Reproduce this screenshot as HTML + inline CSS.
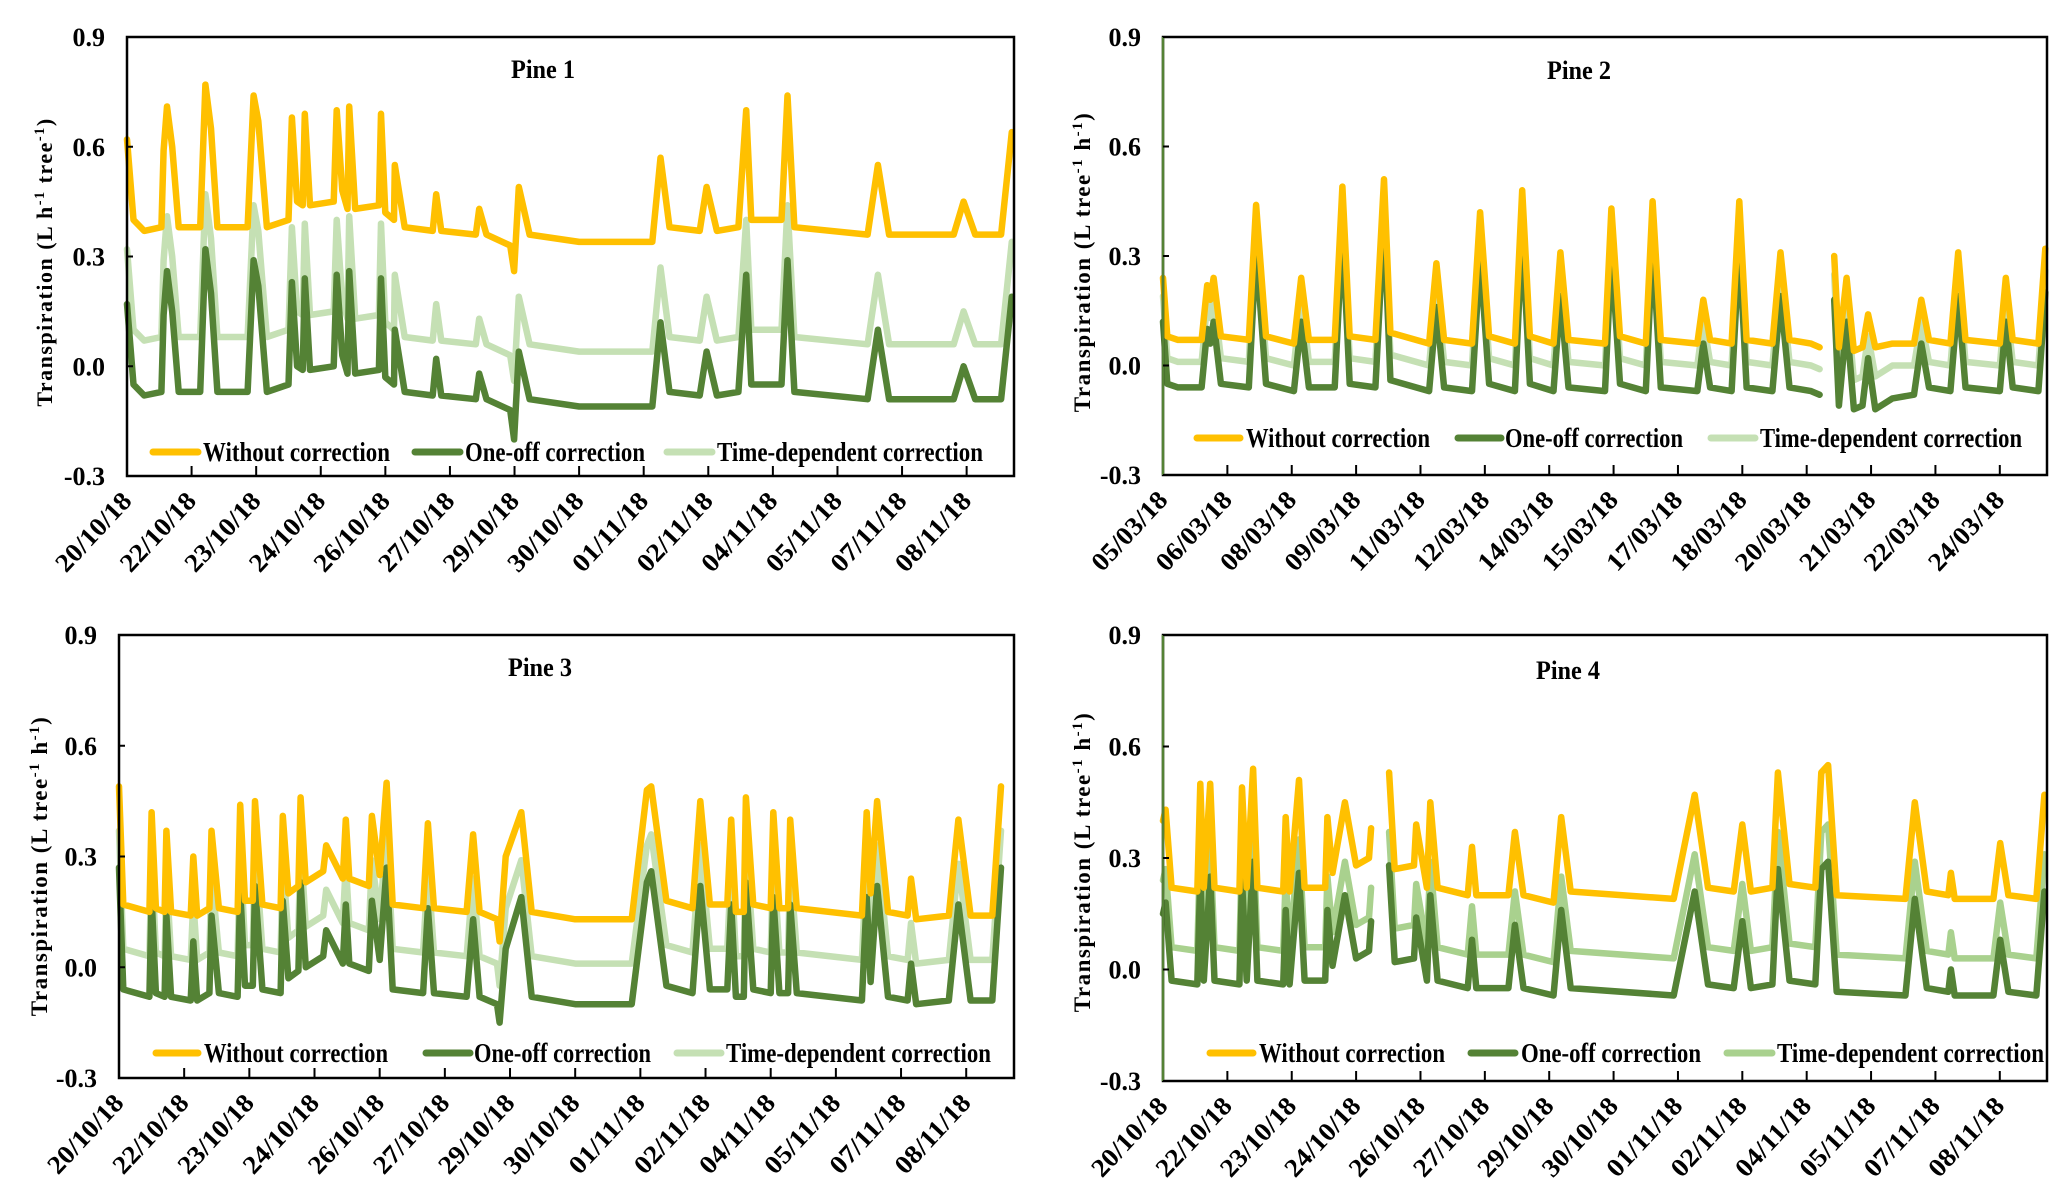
<!DOCTYPE html>
<html><head><meta charset="utf-8"><style>
html,body{margin:0;padding:0;background:#fff}
svg{display:block}
text{font-family:"Liberation Serif",serif;font-weight:bold;fill:#000}
</style></head><body>
<svg id="fig" width="2067" height="1197" viewBox="0 0 2067 1197" xmlns="http://www.w3.org/2000/svg"></svg>
<script>
// ---------- Pine 1 data ----------
const p1Time=[0,0.15,0.4,0.8,0.85,0.93,1.05,1.2,1.7,1.82,1.95,2.1,2.8,2.94,3.05,3.25,3.75,3.83,3.95,4.08,4.13,4.25,4.8,4.87,5.0,5.12,5.16,5.3,5.85,5.9,6.0,6.2,6.22,6.45,7.1,7.18,7.3,8.1,8.18,8.35,8.9,8.99,9.1,9.35,10.5,12.2,12.39,12.6,13.3,13.46,13.7,14.2,14.38,14.5,15.2,15.34,15.5,17.2,17.44,17.7,19.2,19.43,19.7,20.3,20.55];
const p1Without=[.62,.40,.37,.38,.59,.71,.60,.38,.38,.77,.65,.38,.38,.74,.67,.38,.40,.68,.45,.44,.69,.44,.45,.70,.48,.43,.71,.43,.44,.69,.42,.40,.55,.38,.37,.47,.37,.36,.43,.36,.33,.26,.49,.36,.34,.34,.57,.38,.37,.49,.37,.38,.70,.40,.40,.74,.38,.36,.55,.36,.36,.45,.36,.36,.64];
const p1OneOff=[.17,-.05,-.08,-.07,.14,.26,.15,-.07,-.07,.32,.20,-.07,-.07,.29,.22,-.07,-.05,.23,.00,-.01,.24,-.01,.00,.25,.03,-.02,.26,-.02,-.01,.24,-.03,-.05,.10,-.07,-.08,.02,-.08,-.09,-.02,-.09,-.12,-.20,.04,-.09,-.11,-.11,.12,-.07,-.08,.04,-.08,-.07,.25,-.05,-.05,.29,-.07,-.09,.10,-.09,-.09,.00,-.09,-.09,.19];
const p1TimeDep=[.32,.10,.07,.08,.29,.41,.30,.08,.08,.47,.35,.08,.08,.44,.37,.08,.10,.38,.15,.14,.39,.14,.15,.40,.18,.13,.41,.13,.14,.39,.12,.10,.25,.08,.07,.17,.07,.06,.13,.06,.03,-.04,.19,.06,.04,.04,.27,.08,.07,.19,.07,.08,.40,.10,.10,.44,.08,.06,.25,.06,.06,.15,.06,.06,.34];
const p1Ticks=["20/10/18","22/10/18","23/10/18","24/10/18","26/10/18","27/10/18","29/10/18","30/10/18","01/11/18","02/11/18","04/11/18","05/11/18","07/11/18","08/11/18"];
// ---------- Pine 2 data ----------
const p2Time=[0,0.1,0.35,0.9,1.03,1.1,1.18,1.35,2.0,2.17,2.4,3.05,3.22,3.4,4.0,4.18,4.35,4.95,5.15,5.3,6.2,6.37,6.55,7.2,7.39,7.6,8.2,8.37,8.55,9.1,9.26,9.45,10.3,10.45,10.65,11.25,11.41,11.6,12.45,12.59,12.75,13.25,13.43,13.6,14.2,14.39,14.6,15.1,15.3,15.45,15.64,15.75,15.93,16.1,16.3,16.43,16.6,17.0,17.5,17.67,17.85,18.35,18.53,18.7,19.5,19.64,19.8,20.4,20.56];
const p2Without=[.24,.08,.07,.07,.22,.18,.24,.08,.07,.44,.08,.06,.24,.07,.07,.49,.08,.07,.51,.09,.06,.28,.07,.06,.42,.08,.06,.48,.08,.06,.31,.07,.06,.43,.08,.06,.45,.07,.06,.18,.07,.06,.45,.07,.06,.31,.07,.06,.05,null,.30,.05,.24,.04,.05,.14,.05,.06,.06,.18,.07,.06,.31,.07,.06,.24,.07,.06,.32];
const p2OneOff=[.12,-.05,-.06,-.06,.10,.06,.12,-.05,-.06,.32,-.05,-.07,.12,-.06,-.06,.37,-.05,-.06,.40,-.04,-.07,.16,-.06,-.07,.30,-.05,-.07,.36,-.05,-.07,.19,-.06,-.07,.31,-.05,-.07,.33,-.06,-.07,.06,-.06,-.07,.33,-.06,-.07,.19,-.06,-.07,-.08,null,.18,-.11,.12,-.12,-.11,.02,-.12,-.09,-.08,.06,-.06,-.07,.19,-.06,-.07,.12,-.06,-.07,.20];
const p2TimeDep=[.19,.02,.01,.01,.17,.13,.19,.02,.01,.39,.02,.00,.19,.01,.01,.44,.02,.01,.46,.03,.00,.22,.01,.00,.37,.02,.00,.43,.02,.00,.25,.01,.00,.38,.02,.00,.40,.01,.00,.12,.01,.00,.40,.01,.00,.25,.01,.00,-.01,null,.25,-.03,.18,-.04,-.03,.08,-.03,.00,.00,.12,.01,.00,.25,.01,.00,.18,.01,.00,.26];
const p2Ticks=["05/03/18","06/03/18","08/03/18","09/03/18","11/03/18","12/03/18","14/03/18","15/03/18","17/03/18","18/03/18","20/03/18","21/03/18","22/03/18","24/03/18"];
// ---------- Pine 3 data ----------
const p3Time=[0,0.1,0.7,0.75,0.85,1.05,1.09,1.2,1.65,1.71,1.8,2.08,2.13,2.3,2.73,2.79,2.9,3.08,3.13,3.3,3.72,3.77,3.9,4.13,4.18,4.3,4.7,4.77,5.15,5.22,5.3,5.75,5.82,6.0,6.16,6.3,7.0,7.11,7.25,8.0,8.15,8.3,8.7,8.76,8.9,9.26,9.5,10.5,11.8,12.15,12.25,12.6,13.2,13.38,13.6,14.0,14.09,14.2,14.38,14.43,14.6,15.0,15.06,15.2,15.4,15.45,15.6,17.1,17.21,17.3,17.45,17.7,18.15,18.23,18.35,19.1,19.32,19.6,20.1,20.3];
const p3Without=[.49,.17,.15,.42,.16,.15,.37,.15,.14,.30,.14,.16,.37,.16,.15,.44,.18,.18,.45,.17,.16,.41,.20,.22,.46,.23,.26,.33,.24,.40,.24,.22,.41,.25,.50,.17,.16,.39,.16,.15,.36,.15,.13,.07,.30,.42,.15,.13,.13,.48,.49,.18,.16,.45,.17,.17,.40,.15,.15,.46,.17,.16,.42,.16,.16,.40,.16,.14,.42,.20,.45,.15,.14,.24,.13,.14,.40,.14,.14,.49];
const p3OneOff=[.27,-.06,-.08,.19,-.07,-.08,.14,-.08,-.09,.07,-.09,-.07,.14,-.07,-.08,.21,-.05,-.05,.22,-.06,-.07,.18,-.03,-.01,.23,.00,.03,.10,.01,.17,.01,-.01,.18,.02,.27,-.06,-.07,.16,-.07,-.08,.13,-.08,-.10,-.15,.05,.19,-.08,-.10,-.10,.23,.26,-.05,-.07,.22,-.06,-.06,.17,-.08,-.08,.23,-.06,-.07,.19,-.07,-.07,.17,-.07,-.09,.19,-.04,.22,-.08,-.09,.01,-.10,-.09,.17,-.09,-.09,.27];
const p3TimeDep=[.37,.05,.03,.30,.04,.03,.25,.03,.02,.18,.02,.04,.25,.04,.03,.32,.06,.06,.33,.05,.04,.29,.08,.10,.34,.11,.14,.21,.12,.28,.12,.10,.29,.13,.37,.05,.04,.27,.04,.03,.24,.03,.01,-.05,.16,.29,.03,.01,.01,.33,.36,.06,.04,.33,.05,.05,.28,.03,.03,.34,.05,.04,.30,.04,.04,.28,.04,.02,.30,.08,.33,.03,.02,.12,.01,.02,.28,.02,.02,.37];
// ---------- Pine 4 data ----------
const p4Time=[0,0.06,0.2,0.8,0.87,0.95,1.1,1.2,1.78,1.84,1.95,2.1,2.2,2.8,2.86,2.95,3.17,3.3,3.78,3.83,3.95,4.24,4.5,4.8,4.85,5.0,5.27,5.4,5.85,5.9,6.15,6.23,6.4,7.1,7.2,7.3,8.05,8.2,8.4,9.1,9.28,9.5,11.9,12.39,12.7,13.3,13.5,13.7,14.2,14.33,14.6,15.2,15.34,15.5,15.7,17.3,17.52,17.8,18.3,18.36,18.45,19.35,19.51,19.7,20.35,20.54];
const p4Without=[.40,.43,.22,.21,.50,.22,.50,.22,.21,.49,.22,.54,.22,.21,.41,.21,.51,.22,.22,.41,.26,.45,.28,.30,.38,null,.53,.27,.28,.39,.22,.45,.22,.20,.33,.20,.20,.37,.20,.18,.41,.21,.19,.47,.22,.21,.39,.21,.22,.53,.23,.22,.53,.55,.20,.19,.45,.21,.20,.26,.19,.19,.34,.20,.19,.47];
const p4OneOff=[.15,.18,-.03,-.04,.25,-.03,.25,-.03,-.04,.24,-.03,.29,-.03,-.04,.16,-.04,.26,-.03,-.03,.16,.01,.20,.03,.05,.13,null,.28,.02,.03,.14,-.03,.20,-.03,-.05,.08,-.05,-.05,.12,-.05,-.07,.16,-.05,-.07,.21,-.04,-.05,.13,-.05,-.04,.27,-.03,-.04,.27,.29,-.06,-.07,.19,-.05,-.06,.00,-.07,-.07,.08,-.06,-.07,.21];
const p4TimeDep=[.24,.27,.06,.05,.34,.06,.34,.06,.05,.33,.06,.38,.06,.05,.25,.05,.35,.06,.06,.25,.10,.29,.12,.14,.22,null,.37,.11,.12,.23,.06,.29,.06,.04,.17,.04,.04,.21,.04,.02,.25,.05,.03,.31,.06,.05,.23,.05,.06,.37,.07,.06,.37,.39,.04,.03,.29,.05,.04,.10,.03,.03,.18,.04,.03,.31];
const yTicks=[0.9,0.6,0.3,0.0,-0.3];
const yTickLabels=["0.9","0.6","0.3","0.0","-0.3"];

const NS="http://www.w3.org/2000/svg";
const fig=document.getElementById('fig');
function mk(tag,attrs,parent){const e=document.createElementNS(NS,tag);for(const k in attrs)e.setAttribute(k,attrs[k]);(parent||fig).appendChild(e);return e;}

function drawPanel(c){
  const g=mk('g',{});
  
  
  const X=t=>c.L+(t/20.6)*(c.R-c.L);
  const Y=v=>c.B-(v+0.3)/1.2*(c.B-c.T);
  const series=[[c.td,c.tdColor,'time-dependent-series'],[c.oo,'#548235','one-off-series'],[c.w,'#FFC000','without-correction-series']];
  for(const [vals,col,nm] of series){
    let d='',pen=false;
    for(let i=0;i<c.t.length;i++){
      if(vals[i]===null){pen=false;continue;}
      d+=(pen?'L':'M')+X(c.t[i]).toFixed(1)+' '+Y(vals[i]).toFixed(1)+' ';pen=true;
    }
    const p=mk('path',{d:d,fill:'none',stroke:col,'stroke-width':6.5,'stroke-linejoin':'round','stroke-linecap':'round'},g);
    
    
  }
  const fr=mk('rect',{x:c.L,y:c.T,width:c.R-c.L,height:c.B-c.T,fill:'none',stroke:'#000','stroke-width':2.5},g);
  
  
  if(c.greenAxis){mk('line',{x1:c.L,y1:c.T,x2:c.L,y2:c.B,stroke:'#548235','stroke-width':2.5},g);}
  yTicks.forEach((v,i)=>{
    const y=Y(v);
    mk('line',{x1:c.L,y1:y,x2:c.L+6,y2:y,stroke:'#000','stroke-width':2},g);
    const tx=mk('text',{x:c.L-22,y:y+9,'text-anchor':'end','font-size':26},g);
    tx.textContent=yTickLabels[i];
    
    
  });
  c.ticks.forEach((lab,i)=>{
    const x=X(i*1.5);
    if(i>0)mk('line',{x1:x,y1:c.B,x2:x,y2:c.B-10,stroke:'#000','stroke-width':2},g);
    const tx=mk('text',{x:0,y:0,'text-anchor':'end','font-size':26,textLength:98,lengthAdjust:'spacingAndGlyphs',transform:`translate(${x+6},${c.B+26}) rotate(-47)`},g);
    tx.textContent=lab;
    
    
  });
  const yt=mk('text',{x:0,y:0,'text-anchor':'middle','font-size':c.ytSize,'letter-spacing':1.5,transform:`translate(${c.ytX},${c.ytY}) rotate(-90)`},g);
  
  
  c.ytParts.forEach(pt=>{const s=mk('tspan',pt[1]?{'baseline-shift':'super','font-size':c.ytSize*0.65}:{},yt);s.textContent=pt[0];});
  const ti=mk('text',{x:c.titleX,y:c.titleY,'text-anchor':'middle','font-size':26,textLength:64,lengthAdjust:'spacingAndGlyphs'},g);
  ti.textContent=c.title;
  
  
  const lg=[['Without correction','#FFC000'],['One-off correction','#548235'],['Time-dependent correction',c.tdColor]];
  lg.forEach((e,i)=>{
    const le=mk('g',{},g);
    
    
    mk('line',{x1:c.leg[i][0],y1:c.legY,x2:c.leg[i][1],y2:c.legY,stroke:e[1],'stroke-width':7,'stroke-linecap':'round'},le);
    const t=mk('text',{x:c.leg[i][2],y:c.legY+9,'font-size':27,textLength:c.leg[i][3],lengthAdjust:'spacingAndGlyphs'},le);
    t.textContent=e[0];
  });
}
const partsA=[['Transpiration (L h',0],['-1',1],[' tree',0],['-1',1],[')',0]];
const partsB=[['Transpiration (L tree',0],['-1',1],[' h',0],['-1',1],[')',0]];
drawPanel({name:'pine-1-chart',L:127,R:1014,T:37,B:476,t:p1Time,w:p1Without,oo:p1OneOff,td:p1TimeDep,tdColor:'#C5E0B4',ticks:p1Ticks,title:'Pine 1',titleX:543,titleY:78,ytX:52,ytY:262,ytSize:22,ytParts:partsA,legY:452,leg:[[153,198,203,187],[415,460,465,180],[667,712,717,266]]});
drawPanel({name:'pine-2-chart',L:1163,R:2047,T:37,B:475,t:p2Time,w:p2Without,oo:p2OneOff,td:p2TimeDep,tdColor:'#C5E0B4',ticks:p2Ticks,title:'Pine 2',titleX:1579,titleY:79,ytX:1090,ytY:262,ytSize:23,ytParts:partsB,legY:438,leg:[[1197,1240,1246,184],[1458,1501,1505,178],[1711,1755,1760,262]],greenAxis:true});
drawPanel({name:'pine-3-chart',L:119,R:1014,T:635,B:1078,t:p3Time,w:p3Without,oo:p3OneOff,td:p3TimeDep,tdColor:'#C5E0B4',ticks:p1Ticks,title:'Pine 3',titleX:540,titleY:676,ytX:47,ytY:866,ytSize:23,ytParts:partsB,legY:1053,leg:[[156,198,204,184],[426,470,474,177],[677,721,726,265]]});
drawPanel({name:'pine-4-chart',L:1163,R:2047,T:635,B:1081,t:p4Time,w:p4Without,oo:p4OneOff,td:p4TimeDep,tdColor:'#A9D18E',ticks:p1Ticks,title:'Pine 4',titleX:1568,titleY:679,ytX:1090,ytY:862,ytSize:23,ytParts:partsB,legY:1053,leg:[[1210,1253,1259,186],[1471,1515,1521,180],[1727,1772,1777,267]],greenAxis:true});
</script>
</body></html>
